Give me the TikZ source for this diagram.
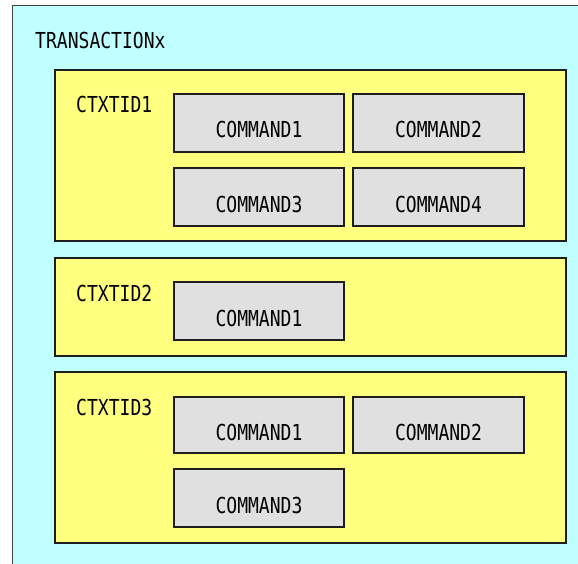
\documentclass[tikz,border=0pt]{standalone}
\usepackage{fontspec}
\setmainfont{DejaVu Sans Mono}[FakeStretch=0.82]
\definecolor{txbg}{RGB}{192,255,255}
\definecolor{ctxbg}{RGB}{255,255,128}
\definecolor{cmdbg}{RGB}{224,224,224}
\definecolor{edge}{RGB}{30,30,30}
\tikzset{
  lbl/.style={anchor=base west, inner sep=0pt, font=\fontsize{22}{24}\selectfont},
  ctxbox/.style={draw=edge, line width=1.5pt, fill=ctxbg, rectangle, inner sep=0pt,
    minimum width=511pt},
  cmdbox/.style={draw=edge, line width=1.5pt, fill=cmdbg, rectangle, inner sep=0pt,
    font=\fontsize{22}{24}\selectfont, text height=30pt, text depth=0pt},
}
\begin{document}
\begin{tikzpicture}[x=1pt, y=-1pt]
  \useasboundingbox (0,0) rectangle (578,564);
  \clip (0,0) rectangle (578,564);

  % transaction frame (runs past the right and bottom edges)
  \path[draw=edge!85, line width=1pt, fill=txbg] (12,6) rectangle (600,600);
  \node[lbl] (tx) at (35,49) {TRANSACTIONx};

  % context 1
  \node[ctxbox, minimum height=171pt] (c1) at (310.5,155.5) {};
  \node[lbl] (c1l) at (76,113) {CTXTID1};
  \node[cmdbox, minimum width=170pt, minimum height=58pt] (c1a) at (259,123) {COMMAND1};
  \node[cmdbox, minimum width=171pt, minimum height=58pt] (c1b) at (438.5,123) {COMMAND2};
  \node[cmdbox, minimum width=170pt, minimum height=58pt] (c1c) at (259,197) {COMMAND3};
  \node[cmdbox, minimum width=171pt, minimum height=58pt] (c1d) at (438.5,197) {COMMAND4};

  % context 2
  \node[ctxbox, minimum height=98pt] (c2) at (310.5,307) {};
  \node[lbl] (c2l) at (76,301) {CTXTID2};
  \node[cmdbox, minimum width=170pt, minimum height=58pt] (c2a) at (259,311) {COMMAND1};

  % context 3
  \node[ctxbox, minimum height=171pt] (c3) at (310.5,457.5) {};
  \node[lbl] (c3l) at (76,415) {CTXTID3};
  \node[cmdbox, minimum width=170pt, minimum height=56pt] (c3a) at (259,425) {COMMAND1};
  \node[cmdbox, minimum width=171pt, minimum height=56pt] (c3b) at (438.5,425) {COMMAND2};
  \node[cmdbox, minimum width=170pt, minimum height=58pt] (c3c) at (259,498) {COMMAND3};
\end{tikzpicture}
\end{document}
